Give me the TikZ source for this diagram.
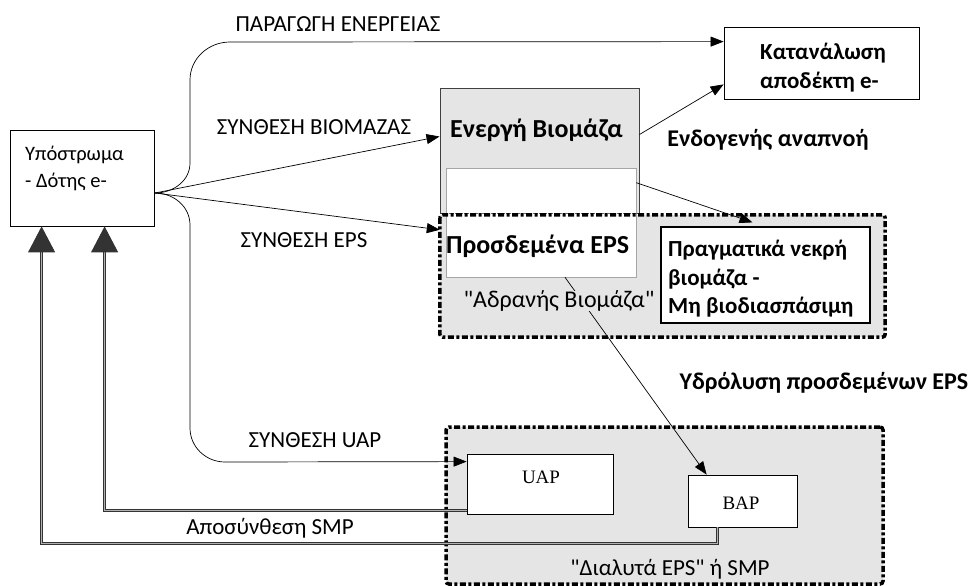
\documentclass[tikz,border=0pt]{standalone}
\usepackage{fontspec}
\newfontfamily\calfont{Carlito}
\newfontfamily\serfont{Liberation Serif}
\usetikzlibrary{arrows.meta}

\begin{document}
\begin{tikzpicture}[x=1pt, y=-1pt,
  every node/.style={font=\fontsize{23}{28}\selectfont\calfont, inner sep=0pt},
  bold/.style={font=\fontsize{24}{28}\selectfont\calfont\bfseries},
  box/.style={draw, fill=white, line width=0.8pt},
  dotbox/.style={draw, line width=3.5pt, rounded corners=3,
    dash pattern=on 6pt off 2.5pt on 3pt off 2.5pt},
  arr/.style={-{Triangle[length=13pt,width=10pt]}, line width=0.7pt},
  ret/.style={-{Triangle[length=26pt,width=27pt]}, line width=0.9pt,
    draw=black!80, double=black!30, double distance=1.4pt}]
  \useasboundingbox (0,0) rectangle (975,586);
  % boxes
  \node[box, minimum width=144, minimum height=96] (sub) at (82,178) {};
  \node[box, minimum width=195, minimum height=72] (cons) at (821.5,63) {};
  \node[draw=black!75, fill=gray!20, line width=1pt, minimum width=199, minimum height=124] (act) at (539.5,151) {};
  \node[fill=gray!20, minimum width=445, minimum height=122] (inert) at (662.5,276) {};
  \node[box, draw=gray!70, line width=0.6pt, minimum width=190, minimum height=109] (bound) at (541,222.5) {};
  \draw[black!60, densely dotted, line width=0.5pt] (bound.west |- act.south) -- (bound.east |- act.south);
  \draw[dotbox] (inert.north west) rectangle (inert.south east);
  \node[box, line width=1.2pt, minimum width=209, minimum height=96] (dead) at (765.5,275) {};
  \node[dotbox, fill=gray!20, minimum width=437, minimum height=157] (smp) at (664.5,505.5) {};
  \node[box, minimum width=146, minimum height=60] (uap) at (540,484) {};
  \node[box, minimum width=109, minimum height=52] (bap) at (742.5,501) {};
  % texts in boxes
  \node[font=\fontsize{20.5}{27}\selectfont\calfont, anchor=west, align=left] (subtxt) at (25,168.5) {Υπόστρωμα\\- Δότης e-};
  \node[font=\fontsize{23}{29}\selectfont\calfont\bfseries, anchor=west, align=left] (constxt) at (760,67.5) {Κατανάλωση\\αποδέκτη e-};
  \node[font=\fontsize{26}{28}\selectfont\calfont\bfseries, anchor=west] (acttxt) at (450,130) {Ενεργή Βιομάζα};
  \node[font=\fontsize{26}{28}\selectfont\calfont\bfseries, anchor=west] (boundtxt) at (446,246) {Προσδεμένα EPS};
  \node[font=\fontsize{23}{28.5}\selectfont\calfont\bfseries, anchor=west, align=left] (deadtxt) at (668,279) {Πραγματικά νεκρή\\βιομάζα -\\Μη βιοδιασπάσιμη};
  \node[font=\fontsize{19}{20}\selectfont\serfont] (uaptxt) at (541,477) {UAP};
  \node[font=\fontsize{19}{20}\selectfont\serfont] (baptxt) at (741,503) {BAP};
  \node (smptxt) at (670,569) {"Διαλυτά EPS" ή SMP};
  % connectors
  \coordinate (fork) at (155,193);
  \draw[arr] (fork) to[out=0, in=-90] (190,163) -- (190,80) to[out=90, in=180] (230,42)
    -- ([yshift=-15]cons.north west);
  \draw[arr] (fork) to[out=0, in=90] (190,225) -- (190,428) to[out=-90, in=180] (225,462)
    -- ([yshift=-8]uap.north west);
  \draw[arr] (fork) -- ([yshift=-48]act.north west);
  \draw[arr] (fork) -- ([yshift=-15]inert.north west);
  \draw[arr] ([yshift=-46]act.north east) -- ([yshift=15]cons.south west);
  \draw[arr] ([yshift=-15]bound.north east) -- ([xshift=-13,yshift=4]dead.north);
  \draw[arr] ([xshift=24]bound.south) -- ([xshift=19]bap.north west);
  \draw[ret] ([yshift=4]uap.south west) -| ([xshift=95]sub.south west);
  \draw[ret] ([xshift=30]bap.south west) -- ++(0,16) -| ([xshift=32]sub.south west);
  \node[fill=gray!20, font=\fontsize{24}{28}\selectfont\calfont] (inerttxt) at (559,301) {"Αδρανής Βιομάζα"};
  % labels
  \node (enlbl) at (338,24) {ΠΑΡΑΓΩΓΗ ΕΝΕΡΓΕΙΑΣ};
  \node (biolbl) at (314,127) {ΣΥΝΘΕΣΗ ΒΙΟΜΑΖΑΣ};
  \node (epslbl) at (304,240) {ΣΥΝΘΕΣΗ EPS};
  \node (uaplbl) at (315,440) {ΣΥΝΘΕΣΗ UAP};
  \node (declbl) at (270,528) {Αποσύνθεση SMP};
  \node[bold] (resplbl) at (768,140) {Ενδογενής αναπνοή};
  \node[bold] (hydlbl) at (824,383) {Υδρόλυση προσδεμένων EPS};
\end{tikzpicture}
\end{document}
